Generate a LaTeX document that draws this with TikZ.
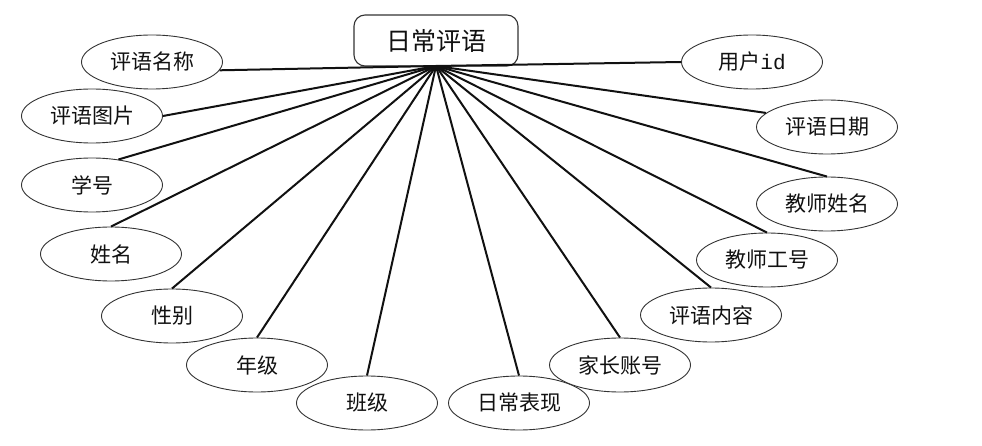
\documentclass[tikz,border=0pt]{standalone}
\usepackage{fontspec}
\setmainfont{Liberation Serif}
\setmonofont{Liberation Mono}
\newfontfamily\cjkfont{Noto Sans CJK SC}
\usepackage{tikz}
\usetikzlibrary{shapes.geometric}
\definecolor{ErInk}{HTML}{111111}
\definecolor{ErEdge}{HTML}{333333}

\begin{document}
\begin{tikzpicture}[x=1pt,y=-1pt,
  entitybox/.style={draw=ErEdge,fill=white,line width=1.1pt,rounded corners=11pt,
    minimum width=164pt,minimum height=51pt,inner sep=0pt,text=ErInk,
    font=\cjkfont\fontsize{25}{29}\selectfont},
  attrnode/.style={draw=ErEdge,fill=white,ellipse,line width=0.9pt,
    minimum width=141pt,minimum height=54pt,inner sep=0pt,text=ErInk,
    font=\cjkfont\fontsize{21}{25}\selectfont},
  link/.style={ErInk,line width=2pt}]
  \useasboundingbox (0,0) rectangle (982,446);
  % entity and the point where all links meet
  \node[entitybox] (pingyu) at (436,40.5) {日常评语};
  \coordinate (hub) at (436,66);
  % attributes, left side
  \node[attrnode] (mingcheng) at (152,62)  {评语名称};
  \node[attrnode] (tupian)    at (92,116)  {评语图片};
  \node[attrnode] (xuehao)    at (92,185)  {学号};
  \node[attrnode] (xingming)  at (111,254) {姓名};
  \node[attrnode] (xingbie)   at (172,316) {性别};
  \node[attrnode] (nianji)    at (257,365) {年级};
  \node[attrnode] (banji)     at (367,403) {班级};
  % attributes, right side
  \node[attrnode] (biaoxian)  at (519,403) {日常表现};
  \node[attrnode] (zhanghao)  at (620,365) {家长账号};
  \node[attrnode] (neirong)   at (711,315) {评语内容};
  \node[attrnode] (gonghao)   at (767,260) {教师工号};
  \node[attrnode] (jiaoshi)   at (827,204) {教师姓名};
  \node[attrnode] (riqi)      at (827,127) {评语日期};
  \node[attrnode] (yonghu)    at (752,62)  {用户{\ttfamily id}};
  % links
  \foreach \attr/\side in {mingcheng/-7,tupian/east,xuehao/44,xingming/north,
      xingbie/north,nianji/north,banji/north,biaoxian/north,zhanghao/north,
      neirong/north,gonghao/north,jiaoshi/north,riqi/167,yonghu/west}
    \draw[link] (hub) -- (\attr.\side);
\end{tikzpicture}
\end{document}
